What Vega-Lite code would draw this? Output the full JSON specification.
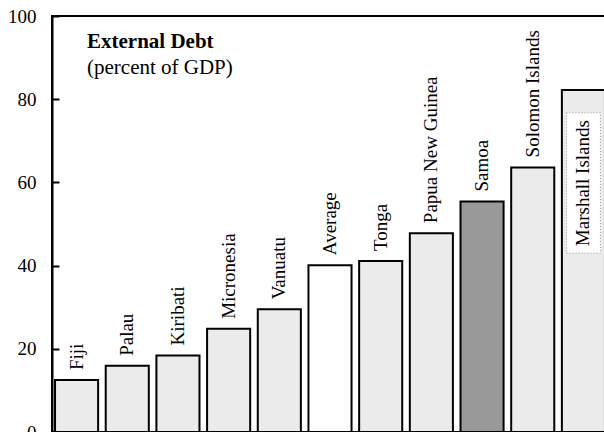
{
  "$schema": "https://vega.github.io/schema/vega-lite/v6.json",
  "width": 556,
  "height": 416,
  "autosize": "none",
  "padding": {"left": 52, "top": 16, "right": 0, "bottom": 0},
  "background": "white",
  "config": {
    "view": {"stroke": "black", "strokeWidth": 2},
    "font": "Liberation Serif"
  },
  "title": {
    "text": "External Debt",
    "subtitle": "(percent of GDP)",
    "anchor": "start",
    "frame": "group",
    "orient": "top",
    "dx": 35,
    "dy": 75,
    "font": "Liberation Serif",
    "fontSize": 21,
    "fontWeight": "bold",
    "color": "black",
    "subtitleFont": "Liberation Serif",
    "subtitleFontSize": 21,
    "subtitleColor": "black",
    "subtitlePadding": 5
  },
  "data": {
    "values": [
      {"country": "Fiji", "debt": 12.5, "kind": "Country"},
      {"country": "Palau", "debt": 15.9, "kind": "Country"},
      {"country": "Kiribati", "debt": 18.4, "kind": "Country"},
      {"country": "Micronesia", "debt": 24.8, "kind": "Country"},
      {"country": "Vanuatu", "debt": 29.5, "kind": "Country"},
      {"country": "Average", "debt": 40.1, "kind": "Average"},
      {"country": "Tonga", "debt": 41.1, "kind": "Country"},
      {"country": "Papua New Guinea", "debt": 47.8, "kind": "Country"},
      {"country": "Samoa", "debt": 55.4, "kind": "Samoa"},
      {"country": "Solomon Islands", "debt": 63.6, "kind": "Country"},
      {"country": "Marshall Islands", "debt": 82.2, "kind": "Country"}
    ]
  },
  "encoding": {
    "x": {
      "field": "country",
      "type": "nominal",
      "sort": null,
      "scale": {"paddingInner": 0.15, "paddingOuter": 0.06},
      "axis": null
    }
  },
  "layer": [
    {
      "mark": {"type": "bar", "stroke": "black", "strokeWidth": 2},
      "encoding": {
        "y": {
          "field": "debt",
          "type": "quantitative",
          "scale": {"domain": [0, 100]},
          "axis": {
            "title": null,
            "values": [0, 20, 40, 60, 80, 100],
            "grid": false,
            "domainColor": "black",
            "domainWidth": 2,
            "tickColor": "black",
            "tickWidth": 2,
            "tickSize": -7,
            "labelFont": "Liberation Serif",
            "labelFontSize": 19,
            "labelColor": "black",
            "labelPadding": 23
          }
        },
        "fill": {
          "field": "kind",
          "type": "nominal",
          "scale": {"domain": ["Country", "Average", "Samoa"], "range": ["#ebebeb", "#ffffff", "#999999"]},
          "legend": null
        }
      }
    },
    {
      "transform": [{"filter": "datum.country === 'Marshall Islands'"}],
      "mark": {"type": "bar", "fill": "white", "stroke": "#999999", "strokeWidth": 1, "strokeDash": [1, 2], "width": {"band": 0.79}},
      "encoding": {
        "y": {"datum": 43},
        "y2": {"datum": 76.7}
      }
    },
    {
      "transform": [{"filter": "datum.country !== 'Marshall Islands'"}],
      "mark": {"type": "text", "angle": 270, "align": "left", "baseline": "middle", "dx": 10, "fontSize": 19, "font": "Liberation Serif", "color": "black"},
      "encoding": {
        "y": {"field": "debt", "type": "quantitative"},
        "text": {"field": "country"}
      }
    },
    {
      "transform": [{"filter": "datum.country === 'Marshall Islands'"}],
      "mark": {"type": "text", "angle": 270, "align": "right", "baseline": "middle", "dx": -30, "fontSize": 19, "font": "Liberation Serif", "color": "black"},
      "encoding": {
        "y": {"field": "debt", "type": "quantitative"},
        "text": {"field": "country"}
      }
    }
  ]
}
